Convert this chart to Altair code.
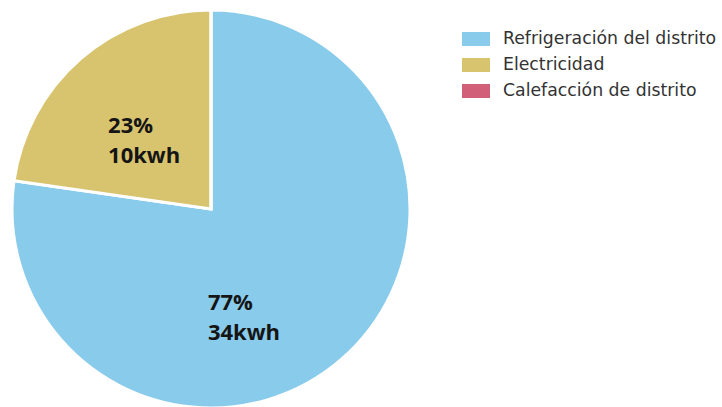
import altair as alt
import pandas as pd

categories = ["Refrigeración del distrito", "Electricidad", "Calefacción de distrito"]
kwh = [34, 10, 0]
percent = [77, 23, 0]
colors = ["#89CBEB", "#D8C46F", "#D25F78"]

df = pd.DataFrame({
    "cat": categories,
    "kwh": kwh,
    "pct": percent,
    "order": list(range(len(categories))),
})
df["label"] = [f"{p}%\n{k}kwh" for p, k in zip(percent, kwh)]

CX, CY, R = 211, 209, 199

pie = alt.Chart(df).mark_arc(stroke="white", strokeWidth=3).encode(
    theta=alt.Theta("kwh:Q", stack=True),
    order=alt.Order("order:Q"),
    x=alt.value(CX),
    y=alt.value(CY),
    radius=alt.value(R),
    color=alt.Color(
        "cat:N",
        scale=alt.Scale(domain=categories, range=colors),
        sort=categories,
        legend=alt.Legend(
            title=None,
            orient="none",
            legendX=462,
            legendY=25,
            symbolType="M-1,-0.5H1V0.5H-1Z",
            symbolSize=784,
            symbolStrokeWidth=0,
            symbolOpacity=1,
            labelFont="DejaVu Sans",
            labelFontSize=17.3,
            labelColor="#333333",
            labelOffset=13,
            rowPadding=3,
            padding=0,
            labelLimit=400,
        ),
    ),
)

# Text layers: angle at the middle of each slice, computed from the stack
base = alt.Chart(df).transform_window(
    cum="sum(kwh)", sort=[alt.SortField("order")]
).transform_joinaggregate(total="sum(kwh)").transform_calculate(
    mid="(datum.cum - datum.kwh/2) / datum.total * 2 * PI"
).encode(
    theta=alt.Theta("mid:Q", scale=None),
)


def label_layer(cat, r, dx, dy):
    return base.transform_filter(alt.datum.cat == cat).mark_text(
        font="Open Sans",
        fontWeight="bold",
        fontSize=22,
        lineHeight=30,
        lineBreak="\n",
        align="left",
        baseline="middle",
        color="#151515",
        dx=dx,
        dy=dy,
    ).encode(
        x=alt.value(CX),
        y=alt.value(CY),
        radius=alt.value(r),
        text="label:N",
    )


gold_label = label_layer("Electricidad", 90, -44, -15)
blue_label = label_layer("Refrigeración del distrito", 145, -98, -16)

chart = alt.layer(pie, gold_label, blue_label).properties(
    width=722,
    height=407,
    autosize=alt.AutoSizeParams(type="none"),
    padding=0,
).configure_view(stroke=None)

chart.save("out.html", embed_options={"renderer": "svg", "actions": False})
